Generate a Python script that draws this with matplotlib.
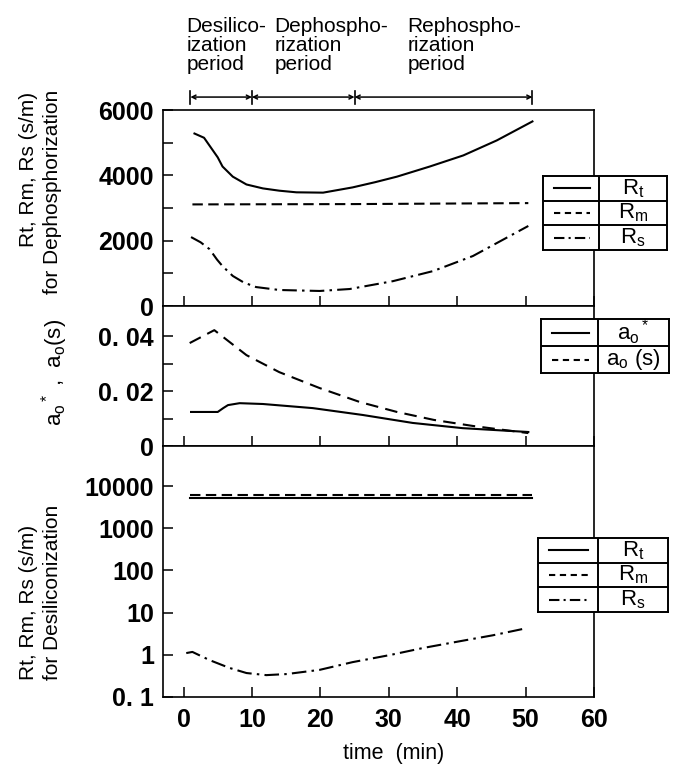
import numpy as np
import matplotlib
matplotlib.use('Agg')
import matplotlib.pyplot as plt
import matplotlib.transforms as mtransforms

plt.rcParams['font.family'] = 'Liberation Sans'
plt.rcParams['mathtext.fontset'] = 'custom'
plt.rcParams['mathtext.rm'] = 'Liberation Sans'
plt.rcParams['mathtext.it'] = 'Liberation Sans:italic'

# ---- data ----
# dephosphorization resistances (s/m)
deph_t_rt = [1.6, 3.0, 4.2, 5.0, 5.7, 7.2, 9.2, 11.6, 14, 16.5, 20.4, 24.7, 28, 31.2, 36, 40.9, 45.8, 51]
deph_rt = [5280, 5150, 4790, 4550, 4270, 3960, 3720, 3600, 3530, 3480, 3470, 3630, 3790, 3960, 4270, 4610, 5070, 5650]
deph_t_rm = [1.3, 25, 50.4]
deph_rm = [3110, 3120, 3150]
deph_t_rs = [1.1, 2.5, 3.8, 4.9, 5.7, 7.2, 8.8, 10.6, 14, 19.9, 24.3, 30.6, 36.5, 42.3, 50.4]
deph_rs = [2110, 1950, 1740, 1420, 1220, 920, 720, 580, 490, 460, 520, 760, 1070, 1530, 2450]

# oxygen activities
ao_t_s = [0.9, 4.5, 9.2, 14, 19.9, 25.8, 31.2, 36.6, 42.3, 50.4]
ao_s = [0.0375, 0.0422, 0.0331, 0.0269, 0.0211, 0.016, 0.0124, 0.0095, 0.0073, 0.0047]
ao_t_star = [1.1, 5.0, 5.8, 6.5, 8.2, 11.6, 18.9, 26.2, 33.5, 40.8, 50.4]
ao_star = [0.0124, 0.0124, 0.0138, 0.0149, 0.0156, 0.0153, 0.0138, 0.0113, 0.0084, 0.0065, 0.0051]

# desiliconization resistances (s/m)
desi_t_rt = [0.9, 51]
desi_rt = [5200, 5200]
desi_t_rm = [0.9, 51]
desi_rm = [6100, 6100]
desi_t_rs = [0.4, 1.3, 3.8, 6.7, 9.2, 12.1, 15.1, 19.9, 24.7, 30.2, 35, 40.4, 45.2, 49.6]
desi_rs = [1.1, 1.17, 0.75, 0.49, 0.37, 0.33, 0.35, 0.44, 0.67, 0.99, 1.45, 2.1, 2.9, 4.1]

period_bounds = [1, 10, 25, 51]
period_names = ['Desilico-\nization\nperiod', 'Dephospho-\nrization\nperiod', 'Rephospho-\nrization\nperiod']
period_text_x = [0.4, 13.3, 32.7]

x_ticks = [0, 10, 20, 30, 40, 50, 60]
deph_ticks = [0, 1000, 2000, 3000, 4000, 5000, 6000]
deph_ticklabels = ['0', '', '2000', '', '4000', '', '6000']
ao_ticks = [0, 0.01, 0.02, 0.03, 0.04]
ao_ticklabels = ['0', '', '0. 02', '', '0. 04']
desi_ticks = [0.1, 1, 10, 100, 1000, 10000]
desi_ticklabels = ['0. 1', '1', '10', '100', '1000', '10000']

W, H = 675, 765
FS = 15      # labels
FS_TICK = 18
FS_LEG = 16
LW = 1.5

fig = plt.figure(figsize=(W / 100, H / 100), dpi=100)


def px_axes(x0, y0, x1, y1):
    return fig.add_axes([x0 / W, 1 - y1 / H, (x1 - x0) / W, (y1 - y0) / H])


ax1 = px_axes(163, 110, 594, 306)
ax2 = px_axes(163, 306, 594, 446)
ax3 = px_axes(163, 446, 594, 697)

dash = (0, (5, 2.6))
dashdot = (0, (7, 2.5, 1.2, 2.5))

ax1.plot(deph_t_rt, deph_rt, 'k-', lw=LW)
ax1.plot(deph_t_rm, deph_rm, color='k', ls=dash, lw=LW)
ax1.plot(deph_t_rs, deph_rs, color='k', ls=dashdot, lw=LW)
ax1.set_ylim(0, 6000)
ax1.set_yticks(deph_ticks)
ax1.set_yticklabels(deph_ticklabels)

ax2.plot(ao_t_star, ao_star, 'k-', lw=LW)
ax2.plot(ao_t_s, ao_s, color='k', ls=(0, (6, 3.5)), lw=LW)
ax2.set_ylim(0, 0.051)
ax2.set_yticks(ao_ticks)
ax2.set_yticklabels(ao_ticklabels)

ax3.plot(desi_t_rt, desi_rt, 'k-', lw=LW)
ax3.plot(desi_t_rm, desi_rm, color='k', ls=dash, lw=LW)
ax3.plot(desi_t_rs, desi_rs, color='k', ls=dashdot, lw=LW)
ax3.set_yscale('log')
ax3.set_ylim(0.1, 10 ** 4.95)
ax3.set_yticks(desi_ticks)
ax3.set_yticklabels(desi_ticklabels)
ax3.minorticks_off()

for ax in (ax1, ax2, ax3):
    ax.set_xlim(-3, 60)
    ax.set_xticks(x_ticks)
    ax.tick_params(direction='in', length=7, width=1.1, labelsize=FS_TICK, pad=6.5)
    for s in ax.spines.values():
        s.set_linewidth(1.2)
    for lab in ax.get_yticklabels():
        lab.set_fontweight('bold')
ax1.tick_params(labelbottom=False)
ax2.tick_params(labelbottom=False)
ax3.set_xticklabels([str(v) for v in x_ticks], fontweight='bold')
ax3.tick_params(axis='x', pad=8)

# period bar above the top panel
trans = mtransforms.blended_transform_factory(ax1.transData, ax1.transAxes)
ybar = 1.066
for a, b in zip(period_bounds[:-1], period_bounds[1:]):
    ax1.annotate('', xy=(a, ybar), xytext=(b, ybar), xycoords=trans, textcoords=trans,
                 arrowprops=dict(arrowstyle='<->', lw=1.1, shrinkA=0, shrinkB=0,
                                 mutation_scale=7, color='k'), annotation_clip=False)
for xb in period_bounds:
    ax1.plot([xb, xb], [ybar - 0.033, ybar + 0.033], 'k-', lw=1.2, transform=trans, clip_on=False)
for xt, name in zip(period_text_x, period_names):
    ax1.text(xt, 1.33, name, transform=trans, ha='left', va='center', fontsize=FS, linespacing=1.02)

# y labels
fig.text(29 / W, 1 - 92 / H, 'Rt, Rm, Rs (s/m)', rotation=90, ha='center', va='top', fontsize=FS)
fig.text(52 / W, 1 - 90 / H, 'for Dephosphorization', rotation=90, ha='center', va='top', fontsize=FS)
fig.text(55 / W, 1 - 372 / H, r'a$_\mathrm{o}$$^*$ ,  a$_\mathrm{o}$(s)', rotation=90,
         ha='center', va='center', fontsize=FS + 1)
fig.text(29 / W, 1 - 680 / H, 'Rt, Rm, Rs (s/m)', rotation=90, ha='center', va='bottom', fontsize=FS)
fig.text(52 / W, 1 - 680 / H, 'for Desiliconization', rotation=90, ha='center', va='bottom', fontsize=FS)
fig.text(394 / W, 1 - 753 / H, 'time  (min)', ha='center', va='center', fontsize=FS + 0.5)


# legend tables drawn as small boxes over the right spine
def legend_table(x0, y0, x1, y1, xdiv, styles, labels):
    t = px_axes(x0, y0, x1, y1)
    n = len(labels)
    t.set_xlim(x0, x1)
    t.set_ylim(n, 0)
    t.set_xticks([])
    t.set_yticks([])
    for s in t.spines.values():
        s.set_linewidth(1.4)
    t.axvline(xdiv, color='k', lw=1.4)
    for i in range(1, n):
        t.axhline(i, color='k', lw=1.4)
    cw = xdiv - x0
    for i, (st, lab) in enumerate(zip(styles, labels)):
        t.plot([x0 + 0.19 * cw, x0 + 0.84 * cw], [i + 0.5, i + 0.5], color='k', ls=st, lw=LW)
        t.text((xdiv + x1) / 2, i + 0.5, lab, ha='center', va='center', fontsize=FS_LEG)


r_labels = [r'R$_\mathrm{t}$', r'R$_\mathrm{m}$', r'R$_\mathrm{s}$']
r_styles = ['-', (0, (3, 2.2)), (0, (5, 2, 1, 2))]
legend_table(543, 176, 667, 250, 599, r_styles, r_labels)
legend_table(541, 319, 669, 373, 598, ['-', (0, (3, 2.2))],
             [r'a$_\mathrm{o}$$^*$', r'a$_\mathrm{o}$ (s)'])
legend_table(538, 538, 668, 612, 598, r_styles, r_labels)

fig.savefig('out.png', dpi=100)
